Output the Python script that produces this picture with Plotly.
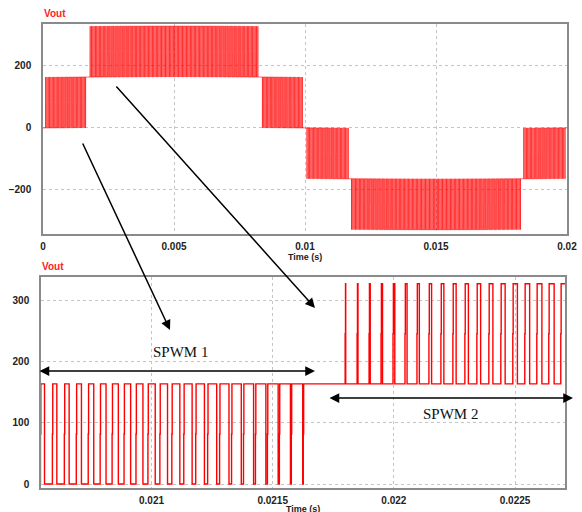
import numpy as np
import plotly.graph_objects as go

# ---- five-level inverter, level-shifted (phase disposition) SPWM ----
CELL_V = 164                          # DC voltage of one H-bridge cell (V)
BAND_LOWER_V = [-328, -164, 0, 164]   # lower edge of each carrier band (V)
REF_PEAK_V = 320                      # peak of the sinusoidal reference (V)
FUNDAMENTAL_HZ = 50
CARRIER_HZ = 20000
MIN_PULSE_S = 1.6e-6                  # pulses narrower than this are not produced
HALF_STEP_S = 1.5e-6                  # the two switch legs turn on one after the other
T_END_S = 0.0228

# ---- axes ----
TOP_X_RANGE = [0, 0.02]
TOP_Y_RANGE = [-342, 335]
TOP_X_TICKS = [0, 0.005, 0.01, 0.015, 0.02]
TOP_X_LABELS = ["0", "0.005", "0.01", "0.015", "0.02"]
TOP_Y_TICKS = [-200, 0, 200]

ZOOM_X_RANGE = [0.020544, 0.022706]
ZOOM_Y_RANGE = [-6.5, 339]
ZOOM_X_TICKS = [0.021, 0.0215, 0.022, 0.0225]
ZOOM_X_LABELS = ["0.021", "0.0215", "0.022", "0.0225"]
ZOOM_Y_TICKS = [0, 100, 200, 300]

W, H = 582, 512


def simulate():
    spp = 1000                                   # samples per carrier period
    n = int(round(T_END_S * CARRIER_HZ * spp))
    idx = np.arange(n)
    t = idx / (CARRIER_HZ * spp)
    ref = REF_PEAK_V * np.sin(2 * np.pi * FUNDAMENTAL_HZ * t)
    phase = (idx % spp) / spp
    tri = 1.0 - np.abs(1.0 - 2.0 * phase)        # 0 at period start, 1 mid-period
    count = np.zeros(n, dtype=int)
    for lo in BAND_LOWER_V:
        count += (ref > lo + CELL_V * tri)
    v = BAND_LOWER_V[0] + CELL_V * count

    change = np.flatnonzero(np.diff(v)) + 1
    starts = np.r_[0, change] / (CARRIER_HZ * spp)
    ends = np.r_[change, n] / (CARRIER_HZ * spp)
    runs = [[s, e, float(v[int(round(s * CARRIER_HZ * spp))])] for s, e in zip(starts, ends)]

    # drop pulses that are too short to be switched
    for i in range(1, len(runs) - 1):
        if runs[i][1] - runs[i][0] < MIN_PULSE_S and runs[i - 1][2] == runs[i + 1][2]:
            runs[i][2] = runs[i - 1][2]
    merged = []
    for r in runs:
        if merged and merged[-1][2] == r[2]:
            merged[-1][1] = r[1]
        else:
            merged.append(list(r))

    xs, ys = [], []
    prev = None
    for s, e, lv in merged:
        if prev is not None and abs(lv) > abs(prev) and e - s > HALF_STEP_S:
            xs.append(s)
            ys.append((lv + prev) / 2)
            xs.append(s + HALF_STEP_S)
            ys.append(lv)
        else:
            xs.append(s)
            ys.append(lv)
        prev = lv
    xs.append(merged[-1][1])
    ys.append(merged[-1][2])
    return np.array(xs), np.array(ys)


x_v, y_v = simulate()


def px(x):
    return x / W


def py(y):
    return 1 - y / H


fig = go.Figure()
fig.add_trace(go.Scatter(x=x_v, y=y_v, mode="lines", xaxis="x", yaxis="y",
                         line=dict(color="#ff0000", width=0.6, shape="hv"),
                         hoverinfo="skip", showlegend=False))
sel = (x_v > ZOOM_X_RANGE[0] - 1e-4) & (x_v < ZOOM_X_RANGE[1] + 1e-4)
fig.add_trace(go.Scatter(x=x_v[sel], y=y_v[sel], mode="lines", xaxis="x2", yaxis="y2",
                         line=dict(color="#ff0000", width=1.4, shape="hv"),
                         hoverinfo="skip", showlegend=False))

tick_font = dict(family="Liberation Sans, Arial, sans-serif", size=10, color="#222222", weight="bold")
axis_common = dict(showline=True, linecolor="#8a8a8a", linewidth=1.5, mirror=True,
                   showgrid=True, gridcolor="#c4c4c4", griddash="dot", gridwidth=1,
                   zeroline=False, ticks="", tickfont=tick_font, fixedrange=True)

fig.update_layout(
    width=W, height=H,
    margin=dict(l=0, r=0, t=0, b=0, autoexpand=False),
    paper_bgcolor="white", plot_bgcolor="white",
    xaxis=dict(axis_common, domain=[px(43), px(567)], anchor="y", range=TOP_X_RANGE,
               tickvals=TOP_X_TICKS, ticktext=TOP_X_LABELS, ticklabelstandoff=2),
    yaxis=dict(axis_common, domain=[py(234), py(24)], anchor="x", range=TOP_Y_RANGE,
               tickvals=TOP_Y_TICKS, ticklabelstandoff=8),
    xaxis2=dict(axis_common, domain=[px(41), px(565)], anchor="y2", range=ZOOM_X_RANGE,
                tickvals=ZOOM_X_TICKS, ticktext=ZOOM_X_LABELS, ticklabelstandoff=2),
    yaxis2=dict(axis_common, domain=[py(488), py(277)], anchor="x2", range=ZOOM_Y_RANGE,
                tickvals=ZOOM_Y_TICKS, ticklabelstandoff=8),
)

label_font = dict(family="Liberation Sans, Arial, sans-serif", size=9, color="#222222", weight="bold")
vout_font = dict(family="Liberation Sans, Arial, sans-serif", size=10, color="#ff2222", weight="bold")
spwm_font = dict(family="Liberation Serif, Times New Roman, serif", size=15, color="#111111")

texts = [
    ("Vout", 42, 13, vout_font, "left"),
    ("Vout", 40, 266, vout_font, "left"),
    ("Time (s)", 305, 257, label_font, "center"),
    ("Time (s)", 303, 509, label_font, "center"),
    ("SPWM 1", 180, 352, spwm_font, "center"),
    ("SPWM 2", 450, 414, spwm_font, "center"),
]
for txt, x, y, font, xa in texts:
    fig.add_annotation(text=txt, x=px(x), y=py(y), xref="paper", yref="paper",
                       xanchor=xa, yanchor="middle", showarrow=False, font=font)

# arrows: (tail_x, tail_y, head_x, head_y, both_ends)
arrows = [
    (115, 85, 315, 308, False),
    (82, 142, 170, 330, False),
    (38, 371, 315, 371, True),
    (328, 398, 573, 398, True),
]
for tx, ty, hx, hy, both in arrows:
    fig.add_annotation(text="", x=px(hx), y=py(hy), xref="paper", yref="paper",
                       ax=tx - hx, ay=ty - hy, axref="pixel", ayref="pixel",
                       showarrow=True, arrowhead=2, arrowsize=1.3, arrowwidth=1.5,
                       arrowcolor="#000000", standoff=0, startstandoff=0,
                       arrowside="end+start" if both else "end",
                       startarrowhead=2, startarrowsize=1.3)

fig.write_html("out.html")
